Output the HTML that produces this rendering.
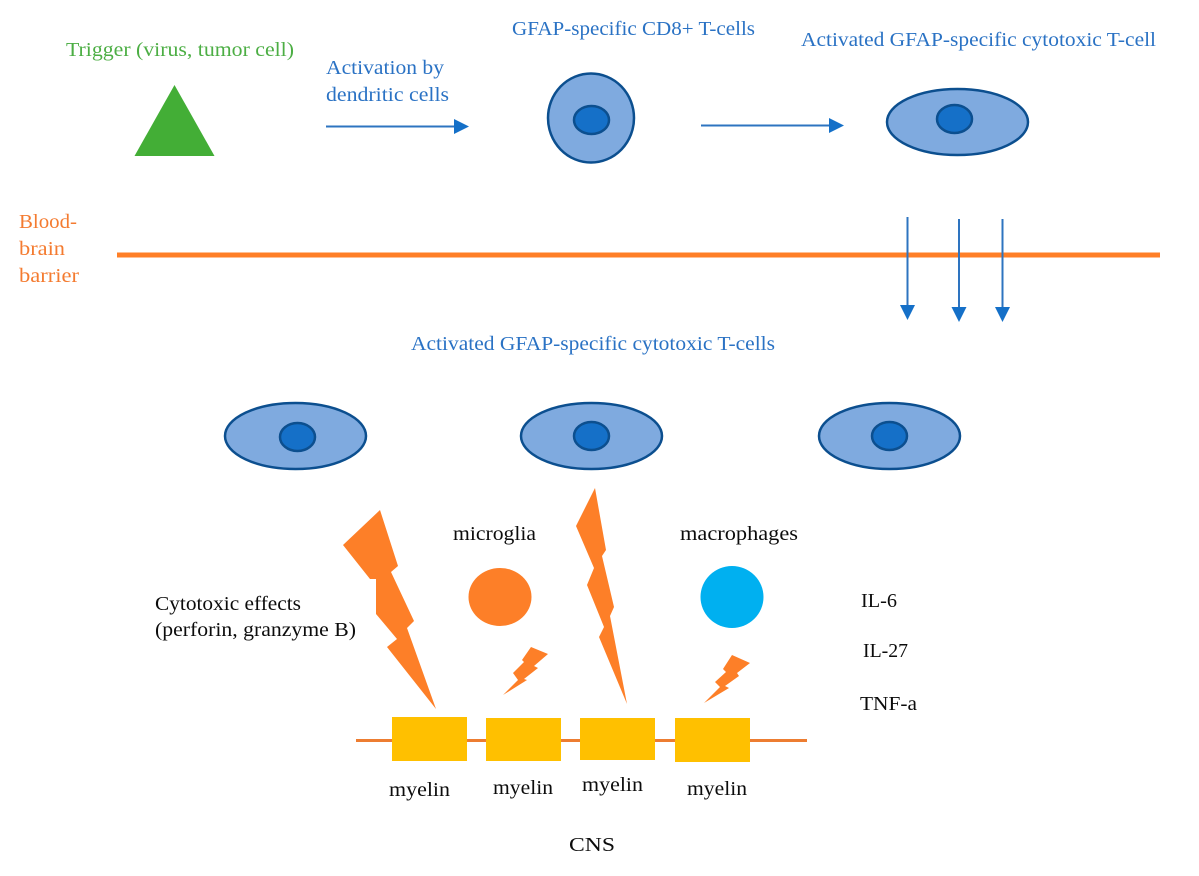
<!DOCTYPE html>
<html>
<head>
<meta charset="utf-8">
<style>
html,body{margin:0;padding:0;background:#fff;width:1199px;height:876px;overflow:hidden}
svg{display:block;filter:blur(0.35px)}
text{font-family:"Liberation Serif",serif;font-size:20px}
.b{fill:#2a72c4}
.o{fill:#f47b30}
.g{fill:#4cae44}
.k{fill:#0c0c0c}
</style>
</head>
<body>
<svg width="1199" height="876" viewBox="0 0 1199 876" xmlns="http://www.w3.org/2000/svg">
<rect width="1199" height="876" fill="#fff"/>

<!-- top row text -->
<text class="g" x="66" y="56" textLength="228" lengthAdjust="spacingAndGlyphs">Trigger (virus, tumor cell)</text>
<text class="b" x="512" y="35" textLength="243" lengthAdjust="spacingAndGlyphs">GFAP-specific CD8+ T-cells</text>
<text class="b" x="801" y="46" textLength="355" lengthAdjust="spacingAndGlyphs">Activated GFAP-specific cytotoxic T-cell</text>
<text class="b" x="326" y="74" textLength="118" lengthAdjust="spacingAndGlyphs">Activation by</text>
<text class="b" x="326" y="101" textLength="123" lengthAdjust="spacingAndGlyphs">dendritic cells</text>

<!-- triangle -->
<polygon points="174.500,85 134.500,156 214.500,156" fill="#43ae36"/>

<!-- top arrows -->
<line x1="326" y1="126.500" x2="455" y2="126.500" stroke="#2e74c0" stroke-width="2"/>
<polygon points="454,119 469,126.500 454,134" fill="#1570c8"/>
<line x1="701" y1="125.500" x2="830" y2="125.500" stroke="#2e74c0" stroke-width="2"/>
<polygon points="829,118 844,125.500 829,133" fill="#1570c8"/>

<!-- top cells -->
<ellipse cx="591" cy="118" rx="43" ry="44.500" fill="#7faadf" stroke="#0c4f8f" stroke-width="2.500"/>
<ellipse cx="591.500" cy="120" rx="17.500" ry="14" fill="#1570c8" stroke="#0c4f8f" stroke-width="2.500"/>
<ellipse cx="957.500" cy="122" rx="70.500" ry="33" fill="#7faadf" stroke="#0c4f8f" stroke-width="2.500"/>
<ellipse cx="954.500" cy="119" rx="17.500" ry="14" fill="#1570c8" stroke="#0c4f8f" stroke-width="2.500"/>

<!-- barrier -->
<text class="o" x="19" y="228" textLength="58" lengthAdjust="spacingAndGlyphs">Blood-</text>
<text class="o" x="19" y="255" textLength="46" lengthAdjust="spacingAndGlyphs">brain</text>
<text class="o" x="19" y="282" textLength="60" lengthAdjust="spacingAndGlyphs">barrier</text>
<rect x="117" y="252.500" width="1043" height="5" fill="#ff7f27"/>

<!-- down arrows -->
<line x1="907.500" y1="217" x2="907.500" y2="307" stroke="#2e74c0" stroke-width="2"/>
<polygon points="900,305 915,305 907.500,320" fill="#1570c8"/>
<line x1="959" y1="219" x2="959" y2="309" stroke="#2e74c0" stroke-width="2"/>
<polygon points="951.500,307 966.500,307 959,322" fill="#1570c8"/>
<line x1="1002.500" y1="219" x2="1002.500" y2="309" stroke="#2e74c0" stroke-width="2"/>
<polygon points="995,307 1010,307 1002.500,322" fill="#1570c8"/>

<text class="b" x="411" y="350" textLength="364" lengthAdjust="spacingAndGlyphs">Activated GFAP-specific cytotoxic T-cells</text>

<!-- middle cells -->
<ellipse cx="295.500" cy="436" rx="70.500" ry="33" fill="#7faadf" stroke="#0c4f8f" stroke-width="2.500"/>
<ellipse cx="297.500" cy="437" rx="17.500" ry="14" fill="#1570c8" stroke="#0c4f8f" stroke-width="2.500"/>
<ellipse cx="591.500" cy="436" rx="70.500" ry="33" fill="#7faadf" stroke="#0c4f8f" stroke-width="2.500"/>
<ellipse cx="591.500" cy="436" rx="17.500" ry="14" fill="#1570c8" stroke="#0c4f8f" stroke-width="2.500"/>
<ellipse cx="889.500" cy="436" rx="70.500" ry="33" fill="#7faadf" stroke="#0c4f8f" stroke-width="2.500"/>
<ellipse cx="889.500" cy="436" rx="17.500" ry="14" fill="#1570c8" stroke="#0c4f8f" stroke-width="2.500"/>

<!-- lightning -->
<polygon fill="#fd7f28" points="380,510 398,566 391,572 414,621 407,628 436,709 387,647 397,639 376,614 376,579 370,579 343,545"/>
<polygon fill="#fd7f28" points="595,488 606,550 602,556 614,607 610,616 627,704 599,637 604,627 587,585 594,568 576,526"/>
<polygon fill="#fd7f28" points="531,647 548,654 534,666 538,668 524,679 527,680 503,695 518,680 513,673 524,662 522,660"/>
<polygon fill="#fd7f28" points="732,655 750,663 737,673 739,676 725,686 729,688 704,703 720,687 715,682 726,672 723,669"/>

<!-- circles -->
<text class="k" x="453" y="540" textLength="83" lengthAdjust="spacingAndGlyphs">microglia</text>
<text class="k" x="680" y="540" textLength="118" lengthAdjust="spacingAndGlyphs">macrophages</text>
<ellipse cx="500" cy="597" rx="31.500" ry="29" fill="#fd7f28"/>
<ellipse cx="732" cy="597" rx="31.500" ry="31" fill="#00b0f0"/>

<text class="k" x="155" y="610" textLength="146" lengthAdjust="spacingAndGlyphs">Cytotoxic effects</text>
<text class="k" x="155" y="636" textLength="201" lengthAdjust="spacingAndGlyphs">(perforin, granzyme B)</text>

<text class="k" x="861" y="607" textLength="36" lengthAdjust="spacingAndGlyphs">IL-6</text>
<text class="k" x="863" y="657" textLength="45" lengthAdjust="spacingAndGlyphs">IL-27</text>
<text class="k" x="860" y="710" textLength="57" lengthAdjust="spacingAndGlyphs">TNF-a</text>

<!-- myelin -->
<line x1="356" y1="740.500" x2="807" y2="740.500" stroke="#ed7d31" stroke-width="3"/>
<rect x="392" y="717" width="75" height="44" fill="#ffc000"/>
<rect x="486" y="718" width="75" height="43" fill="#ffc000"/>
<rect x="580" y="718" width="75" height="42" fill="#ffc000"/>
<rect x="675" y="718" width="75" height="44" fill="#ffc000"/>

<text class="k" x="389" y="796" textLength="61" lengthAdjust="spacingAndGlyphs">myelin</text>
<text class="k" x="493" y="794" textLength="60" lengthAdjust="spacingAndGlyphs">myelin</text>
<text class="k" x="582" y="791" textLength="61" lengthAdjust="spacingAndGlyphs">myelin</text>
<text class="k" x="687" y="795" textLength="60" lengthAdjust="spacingAndGlyphs">myelin</text>
<text class="k" x="569" y="851" textLength="46" lengthAdjust="spacingAndGlyphs">CNS</text>
</svg>
</body>
</html>
